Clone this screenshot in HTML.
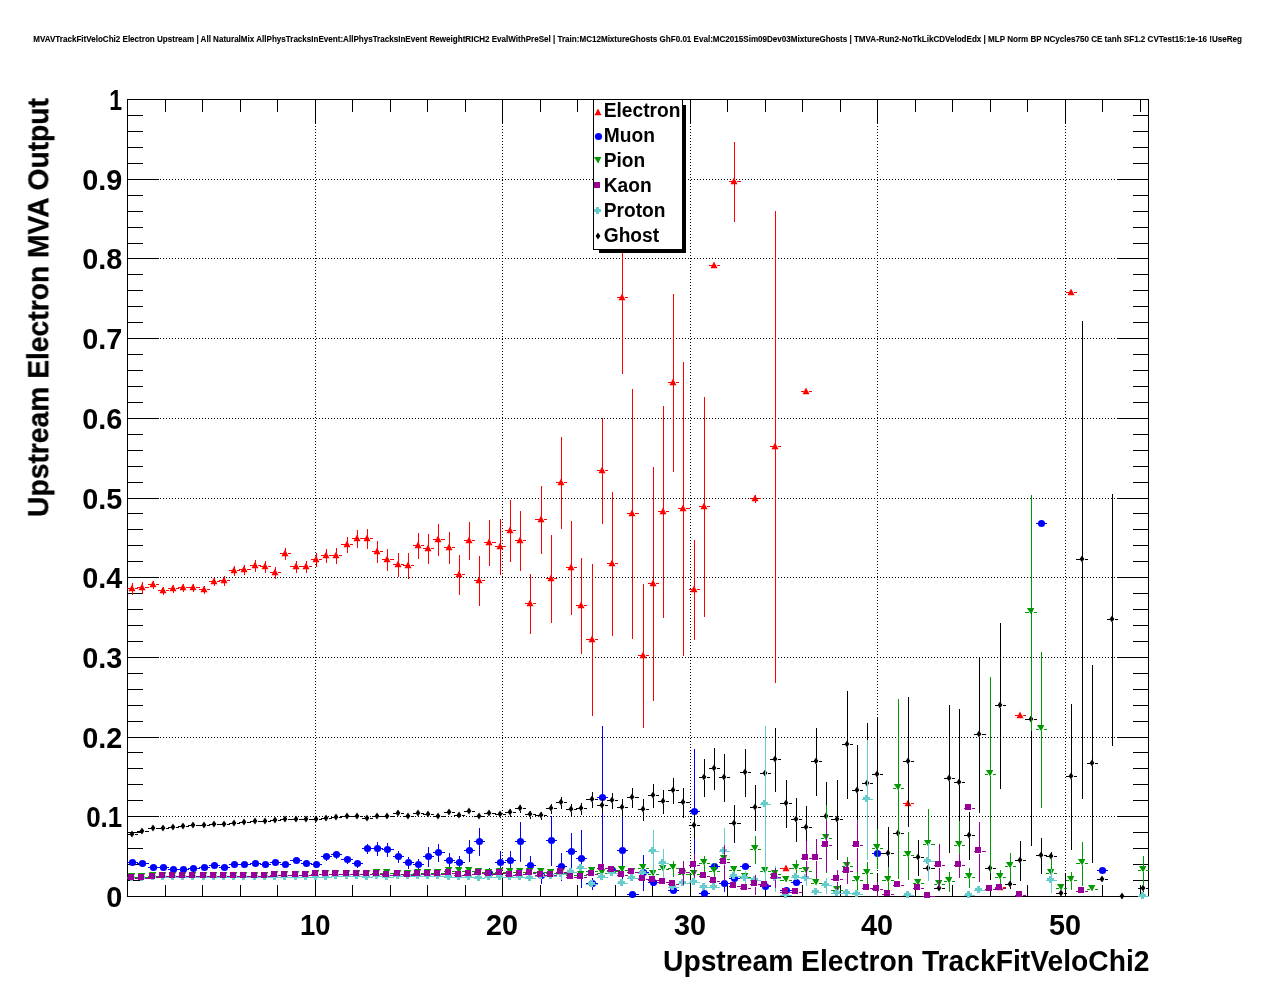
<!DOCTYPE html>
<html><head><meta charset="utf-8"><title>MVAVTrackFitVeloChi2 Electron Upstream</title>
<style>html,body{margin:0;padding:0;background:#fff}body{width:1276px;height:996px;overflow:hidden}</style></head>
<body>
<svg width="1276" height="996" viewBox="0 0 1276 996" style="display:block">
<rect x="0" y="0" width="1276" height="996" fill="#fff"/>
<g stroke="#000" stroke-width="1" stroke-dasharray="1 2" shape-rendering="crispEdges">
<line x1="315.5" y1="98.5" x2="315.5" y2="896.5"/>
<line x1="502.5" y1="98.5" x2="502.5" y2="896.5"/>
<line x1="690.5" y1="98.5" x2="690.5" y2="896.5"/>
<line x1="877.5" y1="98.5" x2="877.5" y2="896.5"/>
<line x1="1065.5" y1="98.5" x2="1065.5" y2="896.5"/>
<line x1="126.5" y1="816.5" x2="1148.5" y2="816.5"/>
<line x1="126.5" y1="737.5" x2="1148.5" y2="737.5"/>
<line x1="126.5" y1="657.5" x2="1148.5" y2="657.5"/>
<line x1="126.5" y1="577.5" x2="1148.5" y2="577.5"/>
<line x1="126.5" y1="498.5" x2="1148.5" y2="498.5"/>
<line x1="126.5" y1="418.5" x2="1148.5" y2="418.5"/>
<line x1="126.5" y1="338.5" x2="1148.5" y2="338.5"/>
<line x1="126.5" y1="258.5" x2="1148.5" y2="258.5"/>
<line x1="126.5" y1="179.5" x2="1148.5" y2="179.5"/>
</g>
<g stroke="#000" stroke-width="1" fill="none" shape-rendering="crispEdges">
<rect x="127.5" y="99.5" width="1021.0" height="797.0"/>
<path d="M165.5 896.5v-12M165.5 99.5v12M202.5 896.5v-12M202.5 99.5v12M240.5 896.5v-12M240.5 99.5v12M277.5 896.5v-12M277.5 99.5v12M315.5 896.5v-24M315.5 99.5v24M352.5 896.5v-12M352.5 99.5v12M390.5 896.5v-12M390.5 99.5v12M427.5 896.5v-12M427.5 99.5v12M465.5 896.5v-12M465.5 99.5v12M502.5 896.5v-24M502.5 99.5v24M540.5 896.5v-12M540.5 99.5v12M577.5 896.5v-12M577.5 99.5v12M615.5 896.5v-12M615.5 99.5v12M652.5 896.5v-12M652.5 99.5v12M690.5 896.5v-24M690.5 99.5v24M727.5 896.5v-12M727.5 99.5v12M765.5 896.5v-12M765.5 99.5v12M802.5 896.5v-12M802.5 99.5v12M840.5 896.5v-12M840.5 99.5v12M877.5 896.5v-24M877.5 99.5v24M915.5 896.5v-12M915.5 99.5v12M952.5 896.5v-12M952.5 99.5v12M990.5 896.5v-12M990.5 99.5v12M1027.5 896.5v-12M1027.5 99.5v12M1065.5 896.5v-24M1065.5 99.5v24M1102.5 896.5v-12M1102.5 99.5v12M1140.5 896.5v-12M1140.5 99.5v12M127 896.5h32M1149 896.5h-32M127 880.5h16M1149 880.5h-16M127 864.5h16M1149 864.5h-16M127 848.5h16M1149 848.5h-16M127 832.5h16M1149 832.5h-16M127 816.5h32M1149 816.5h-32M127 800.5h16M1149 800.5h-16M127 784.5h16M1149 784.5h-16M127 768.5h16M1149 768.5h-16M127 752.5h16M1149 752.5h-16M127 737.5h32M1149 737.5h-32M127 721.5h16M1149 721.5h-16M127 705.5h16M1149 705.5h-16M127 689.5h16M1149 689.5h-16M127 673.5h16M1149 673.5h-16M127 657.5h32M1149 657.5h-32M127 641.5h16M1149 641.5h-16M127 625.5h16M1149 625.5h-16M127 609.5h16M1149 609.5h-16M127 593.5h16M1149 593.5h-16M127 577.5h32M1149 577.5h-32M127 561.5h16M1149 561.5h-16M127 545.5h16M1149 545.5h-16M127 529.5h16M1149 529.5h-16M127 513.5h16M1149 513.5h-16M127 498.5h32M1149 498.5h-32M127 482.5h16M1149 482.5h-16M127 466.5h16M1149 466.5h-16M127 450.5h16M1149 450.5h-16M127 434.5h16M1149 434.5h-16M127 418.5h32M1149 418.5h-32M127 402.5h16M1149 402.5h-16M127 386.5h16M1149 386.5h-16M127 370.5h16M1149 370.5h-16M127 354.5h16M1149 354.5h-16M127 338.5h32M1149 338.5h-32M127 322.5h16M1149 322.5h-16M127 306.5h16M1149 306.5h-16M127 290.5h16M1149 290.5h-16M127 274.5h16M1149 274.5h-16M127 258.5h32M1149 258.5h-32M127 243.5h16M1149 243.5h-16M127 227.5h16M1149 227.5h-16M127 211.5h16M1149 211.5h-16M127 195.5h16M1149 195.5h-16M127 179.5h32M1149 179.5h-32M127 163.5h16M1149 163.5h-16M127 147.5h16M1149 147.5h-16M127 131.5h16M1149 131.5h-16M127 115.5h16M1149 115.5h-16M127 99.5h32M1149 99.5h-32"/>
</g>
<g stroke="#ff0000" stroke-width="1" fill="#ff0000">
<path d="M127 588.5H130.0M135.0 588.5H138M132.5 582.5V586.0M132.5 591.0V594.5M137 587.5H140.0M145.0 587.5H149M142.5 581.5V585.0M142.5 590.0V593.5M148 584.5H151.0M156.0 584.5H159M153.5 580.5V582.0M153.5 587.0V588.5M158 590.5H161.0M166.0 590.5H169M163.5 586.5V588.0M163.5 593.0V594.5M168 588.5H171.0M176.0 588.5H179M173.5 584.5V586.0M173.5 591.0V592.5M178 587.5H181.0M186.0 587.5H189M183.5 583.5V585.0M183.5 590.0V591.5M188 587.5H191.0M196.0 587.5H200M193.5 583.5V585.0M193.5 590.0V591.5M199 589.5H202.0M207.0 589.5H210M204.5 585.5V587.0M204.5 592.0V593.5M209 581.5H212.0M217.0 581.5H220M214.5 577.5V579.0M214.5 584.0V585.5M219 580.5H222.0M227.0 580.5H230M224.5 575.5V578.0M224.5 583.0V585.5M229 570.5H232.0M237.0 570.5H240M234.5 565.5V568.0M234.5 573.0V575.5M239 569.5H242.0M247.0 569.5H251M244.5 564.5V567.0M244.5 572.0V574.5M250 565.5H253.0M258.0 565.5H261M255.5 559.5V563.0M255.5 568.0V571.5M260 566.5H263.0M268.0 566.5H271M265.5 560.5V564.0M265.5 569.0V572.5M270 572.5H273.0M278.0 572.5H281M275.5 566.5V570.0M275.5 575.0V578.5M280 553.5H283.0M288.0 553.5H291M285.5 547.5V551.0M285.5 556.0V559.5M290 566.5H294.0M299.0 566.5H302M296.5 560.5V564.0M296.5 569.0V572.5M301 566.5H304.0M309.0 566.5H312M306.5 560.5V564.0M306.5 569.0V572.5M311 559.5H314.0M319.0 559.5H322M316.5 552.5V557.0M316.5 562.0V566.5M321 555.5H324.0M329.0 555.5H332M326.5 548.5V553.0M326.5 558.0V562.5M331 555.5H334.0M339.0 555.5H342M336.5 547.5V553.0M336.5 558.0V563.5M341 544.5H345.0M350.0 544.5H353M347.5 536.5V542.0M347.5 547.0V552.5M352 538.5H355.0M360.0 538.5H363M357.5 529.5V536.0M357.5 541.0V547.5M362 538.5H365.0M370.0 538.5H373M367.5 528.5V536.0M367.5 541.0V548.5M372 551.5H375.0M380.0 551.5H383M377.5 540.5V549.0M377.5 554.0V562.5M382 559.5H385.0M390.0 559.5H394M387.5 548.5V557.0M387.5 562.0V570.5M393 564.5H396.0M401.0 564.5H404M398.5 552.5V562.0M398.5 567.0V576.5M403 565.5H406.0M411.0 565.5H414M408.5 552.5V563.0M408.5 568.0V578.5M413 545.5H416.0M421.0 545.5H424M418.5 532.5V543.0M418.5 548.0V558.5M423 548.5H426.0M431.0 548.5H434M428.5 533.5V546.0M428.5 551.0V563.5M433 539.5H436.0M441.0 539.5H445M438.5 523.5V537.0M438.5 542.0V555.5M444 547.5H447.0M452.0 547.5H455M449.5 531.5V545.0M449.5 550.0V563.5M454 574.5H457.0M462.0 574.5H465M459.5 554.5V572.0M459.5 577.0V594.5M464 540.5H467.0M472.0 540.5H475M469.5 521.5V538.0M469.5 543.0V559.5M474 580.5H477.0M482.0 580.5H485M479.5 555.5V578.0M479.5 583.0V605.5M484 542.5H487.0M492.0 542.5H496M489.5 519.5V540.0M489.5 545.0V565.5M495 546.5H498.0M503.0 546.5H506M500.5 518.5V544.0M500.5 549.0V574.5M505 530.5H508.0M513.0 530.5H516M510.5 499.5V528.0M510.5 533.0V561.5M515 540.5H518.0M523.0 540.5H526M520.5 510.5V538.0M520.5 543.0V570.5M525 603.5H528.0M533.0 603.5H536M530.5 573.5V601.0M530.5 606.0V633.5M535 519.5H539.0M544.0 519.5H547M541.5 485.5V517.0M541.5 522.0V553.5M546 578.5H549.0M554.0 578.5H557M551.5 534.5V576.0M551.5 581.0V622.5M556 482.5H559.0M564.0 482.5H567M561.5 436.5V480.0M561.5 485.0V528.5M566 567.5H569.0M574.0 567.5H577M571.5 520.5V565.0M571.5 570.0V614.5M576 605.5H579.0M584.0 605.5H587M581.5 557.5V603.0M581.5 608.0V653.5M586 639.5H590.0M595.0 639.5H598M592.5 563.5V637.0M592.5 642.0V715.5M597 470.5H600.0M605.0 470.5H608M602.5 417.5V468.0M602.5 473.0V523.5M607 563.5H610.0M615.0 563.5H618M612.5 491.5V561.0M612.5 566.0V635.5M617 297.5H620.0M625.0 297.5H628M622.5 221.5V295.0M622.5 300.0V373.5M627 513.5H630.0M635.0 513.5H639M632.5 388.5V511.0M632.5 516.0V638.5M638 655.5H641.0M646.0 655.5H649M643.5 583.5V653.0M643.5 658.0V727.5M648 583.5H651.0M656.0 583.5H659M653.5 466.5V581.0M653.5 586.0V700.5M658 511.5H661.0M666.0 511.5H669M663.5 405.5V509.0M663.5 514.0V617.5M668 382.5H671.0M676.0 382.5H679M673.5 293.5V380.0M673.5 385.0V471.5M678 508.5H681.0M686.0 508.5H690M683.5 361.5V506.0M683.5 511.0V655.5M689 589.5H692.0M697.0 589.5H700M694.5 539.5V587.0M694.5 592.0V639.5M699 506.5H702.0M707.0 506.5H710M704.5 396.5V504.0M704.5 509.0V616.5M709 265.5H712.0M717.0 265.5H720M729 181.5H732.0M737.0 181.5H741M734.5 141.5V179.0M734.5 184.0V221.5M750 498.5H753.0M758.0 498.5H761M755.5 494.5V496.0M755.5 501.0V502.5M770 446.5H773.0M778.0 446.5H781M775.5 210.5V444.0M775.5 449.0V682.5M780 868.5H784.0M789.0 868.5H792M801 391.5H804.0M809.0 391.5H812M903 803.5H906.0M911.0 803.5H914M995 887.5H998.0M1003.0 887.5H1006M1015 715.5H1018.0M1023.0 715.5H1026M1066 292.5H1069.0M1074.0 292.5H1077" fill="none" shape-rendering="crispEdges"/>
<g stroke="none"><path d="M132.0 584.5L135.5 591.2H128.5Z"/><path d="M142.0 583.5L145.5 590.2H138.5Z"/><path d="M153.0 580.5L156.5 587.2H149.5Z"/><path d="M163.0 586.5L166.5 593.2H159.5Z"/><path d="M173.0 584.5L176.5 591.2H169.5Z"/><path d="M183.0 583.5L186.5 590.2H179.5Z"/><path d="M193.0 583.5L196.5 590.2H189.5Z"/><path d="M204.0 585.5L207.5 592.2H200.5Z"/><path d="M214.0 577.5L217.5 584.2H210.5Z"/><path d="M224.0 576.5L227.5 583.2H220.5Z"/><path d="M234.0 566.5L237.5 573.2H230.5Z"/><path d="M244.0 565.5L247.5 572.2H240.5Z"/><path d="M255.0 561.5L258.5 568.2H251.5Z"/><path d="M265.0 562.5L268.5 569.2H261.5Z"/><path d="M275.0 568.5L278.5 575.2H271.5Z"/><path d="M285.0 549.5L288.5 556.2H281.5Z"/><path d="M296.0 562.5L299.5 569.2H292.5Z"/><path d="M306.0 562.5L309.5 569.2H302.5Z"/><path d="M316.0 555.5L319.5 562.2H312.5Z"/><path d="M326.0 551.5L329.5 558.2H322.5Z"/><path d="M336.0 551.5L339.5 558.2H332.5Z"/><path d="M347.0 540.5L350.5 547.2H343.5Z"/><path d="M357.0 534.5L360.5 541.2H353.5Z"/><path d="M367.0 534.5L370.5 541.2H363.5Z"/><path d="M377.0 547.5L380.5 554.2H373.5Z"/><path d="M387.0 555.5L390.5 562.2H383.5Z"/><path d="M398.0 560.5L401.5 567.2H394.5Z"/><path d="M408.0 561.5L411.5 568.2H404.5Z"/><path d="M418.0 541.5L421.5 548.2H414.5Z"/><path d="M428.0 544.5L431.5 551.2H424.5Z"/><path d="M438.0 535.5L441.5 542.2H434.5Z"/><path d="M449.0 543.5L452.5 550.2H445.5Z"/><path d="M459.0 570.5L462.5 577.2H455.5Z"/><path d="M469.0 536.5L472.5 543.2H465.5Z"/><path d="M479.0 576.5L482.5 583.2H475.5Z"/><path d="M489.0 538.5L492.5 545.2H485.5Z"/><path d="M500.0 542.5L503.5 549.2H496.5Z"/><path d="M510.0 526.5L513.5 533.2H506.5Z"/><path d="M520.0 536.5L523.5 543.2H516.5Z"/><path d="M530.0 599.5L533.5 606.2H526.5Z"/><path d="M541.0 515.5L544.5 522.2H537.5Z"/><path d="M551.0 574.5L554.5 581.2H547.5Z"/><path d="M561.0 478.5L564.5 485.2H557.5Z"/><path d="M571.0 563.5L574.5 570.2H567.5Z"/><path d="M581.0 601.5L584.5 608.2H577.5Z"/><path d="M592.0 635.5L595.5 642.2H588.5Z"/><path d="M602.0 466.5L605.5 473.2H598.5Z"/><path d="M612.0 559.5L615.5 566.2H608.5Z"/><path d="M622.0 293.5L625.5 300.2H618.5Z"/><path d="M632.0 509.5L635.5 516.2H628.5Z"/><path d="M643.0 651.5L646.5 658.2H639.5Z"/><path d="M653.0 579.5L656.5 586.2H649.5Z"/><path d="M663.0 507.5L666.5 514.2H659.5Z"/><path d="M673.0 378.5L676.5 385.2H669.5Z"/><path d="M683.0 504.5L686.5 511.2H679.5Z"/><path d="M694.0 585.5L697.5 592.2H690.5Z"/><path d="M704.0 502.5L707.5 509.2H700.5Z"/><path d="M714.0 261.5L717.5 268.2H710.5Z"/><path d="M734.0 177.5L737.5 184.2H730.5Z"/><path d="M755.0 494.5L758.5 501.2H751.5Z"/><path d="M775.0 442.5L778.5 449.2H771.5Z"/><path d="M786.0 864.5L789.5 871.2H782.5Z"/><path d="M806.0 387.5L809.5 394.2H802.5Z"/><path d="M908.0 799.5L911.5 806.2H904.5Z"/><path d="M1000.0 883.5L1003.5 890.2H996.5Z"/><path d="M1020.0 711.5L1023.5 718.2H1016.5Z"/><path d="M1071.0 288.5L1074.5 295.2H1067.5Z"/></g>
</g>
<g stroke="#0000ff" stroke-width="1" fill="#0000ff">
<path d="M127 862.5H129.0M136.0 862.5H138M137 863.5H139.0M146.0 863.5H149M148 867.5H150.0M157.0 867.5H159M158 867.5H160.0M167.0 867.5H169M168 869.5H170.0M177.0 869.5H179M178 869.5H180.0M187.0 869.5H189M188 868.5H190.0M197.0 868.5H200M199 867.5H201.0M208.0 867.5H210M209 865.5H211.0M218.0 865.5H220M219 867.5H221.0M228.0 867.5H230M229 864.5H231.0M238.0 864.5H240M239 864.5H241.0M248.0 864.5H251M250 863.5H252.0M259.0 863.5H261M260 864.5H262.0M269.0 864.5H271M270 862.5H272.0M279.0 862.5H281M280 864.5H282.0M289.0 864.5H291M290 860.5H293.0M300.0 860.5H302M301 863.5H303.0M310.0 863.5H312M311 864.5H313.0M320.0 864.5H322M321 856.5H323.0M330.0 856.5H332M326.5 852.5V853.0M326.5 860.0V860.5M331 854.5H333.0M340.0 854.5H342M336.5 850.5V851.0M336.5 858.0V858.5M341 859.5H344.0M351.0 859.5H353M347.5 855.5V856.0M347.5 863.0V863.5M352 863.5H354.0M361.0 863.5H363M357.5 859.5V860.0M357.5 867.0V867.5M362 848.5H364.0M371.0 848.5H373M367.5 843.5V845.0M367.5 852.0V853.5M372 848.5H374.0M381.0 848.5H383M377.5 841.5V845.0M377.5 852.0V855.5M382 849.5H384.0M391.0 849.5H394M387.5 842.5V846.0M387.5 853.0V856.5M393 856.5H395.0M402.0 856.5H404M398.5 850.5V853.0M398.5 860.0V862.5M403 862.5H405.0M412.0 862.5H414M408.5 856.5V859.0M408.5 866.0V868.5M413 864.5H415.0M422.0 864.5H424M418.5 858.5V861.0M418.5 868.0V870.5M423 856.5H425.0M432.0 856.5H434M428.5 846.5V853.0M428.5 860.0V866.5M433 852.5H435.0M442.0 852.5H445M438.5 843.5V849.0M438.5 856.0V861.5M444 860.5H446.0M453.0 860.5H455M449.5 852.5V857.0M449.5 864.0V868.5M454 862.5H456.0M463.0 862.5H465M459.5 855.5V859.0M459.5 866.0V869.5M464 850.5H466.0M473.0 850.5H475M469.5 839.5V847.0M469.5 854.0V861.5M474 841.5H476.0M483.0 841.5H485M479.5 827.5V838.0M479.5 845.0V855.5M484 873.5H486.0M493.0 873.5H496M489.5 867.5V870.0M489.5 877.0V879.5M495 862.5H497.0M504.0 862.5H506M500.5 850.5V859.0M500.5 866.0V874.5M505 860.5H507.0M514.0 860.5H516M510.5 850.5V857.0M510.5 864.0V870.5M515 841.5H517.0M524.0 841.5H526M520.5 821.5V838.0M520.5 845.0V861.5M525 865.5H527.0M534.0 865.5H536M530.5 855.5V862.0M530.5 869.0V875.5M535 875.5H538.0M545.0 875.5H547M541.5 867.5V872.0M541.5 879.0V883.5M546 840.5H548.0M555.0 840.5H557M551.5 815.5V837.0M551.5 844.0V865.5M556 866.5H558.0M565.0 866.5H567M561.5 852.5V863.0M561.5 870.0V880.5M566 851.5H568.0M575.0 851.5H577M571.5 832.5V848.0M571.5 855.0V870.5M576 858.5H578.0M585.0 858.5H587M581.5 829.5V855.0M581.5 862.0V887.5M586 883.5H589.0M596.0 883.5H598M592.5 877.5V880.0M592.5 887.0V889.5M597 797.5H599.0M606.0 797.5H608M602.5 725.5V794.0M602.5 801.0V869.5M607 870.5H609.0M616.0 870.5H618M617 850.5H619.0M626.0 850.5H628M622.5 816.5V847.0M622.5 854.0V884.5M627 894.5H629.0M636.0 894.5H639M638 872.5H640.0M647.0 872.5H649M643.5 854.5V869.0M643.5 876.0V890.5M648 882.5H650.0M657.0 882.5H659M668 890.5H670.0M677.0 890.5H679M689 811.5H691.0M698.0 811.5H700M694.5 748.5V808.0M694.5 815.0V874.5M699 893.5H701.0M708.0 893.5H710M709 866.5H711.0M718.0 866.5H720M719 883.5H721.0M728.0 883.5H730M724.5 875.5V880.0M724.5 887.0V891.5M729 878.5H731.0M738.0 878.5H741M740 866.5H742.0M749.0 866.5H751M760 886.5H762.0M769.0 886.5H771M780 890.5H783.0M790.0 890.5H792M791 882.5H793.0M800.0 882.5H802M872 853.5H874.0M881.0 853.5H883M1036 523.5H1038.0M1045.0 523.5H1047M1097 870.5H1099.0M1106.0 870.5H1108" fill="none" shape-rendering="crispEdges"/>
<g stroke="none"><circle cx="132.5" cy="862.5" r="3.6"/><circle cx="142.5" cy="863.5" r="3.6"/><circle cx="153.5" cy="867.5" r="3.6"/><circle cx="163.5" cy="867.5" r="3.6"/><circle cx="173.5" cy="869.5" r="3.6"/><circle cx="183.5" cy="869.5" r="3.6"/><circle cx="193.5" cy="868.5" r="3.6"/><circle cx="204.5" cy="867.5" r="3.6"/><circle cx="214.5" cy="865.5" r="3.6"/><circle cx="224.5" cy="867.5" r="3.6"/><circle cx="234.5" cy="864.5" r="3.6"/><circle cx="244.5" cy="864.5" r="3.6"/><circle cx="255.5" cy="863.5" r="3.6"/><circle cx="265.5" cy="864.5" r="3.6"/><circle cx="275.5" cy="862.5" r="3.6"/><circle cx="285.5" cy="864.5" r="3.6"/><circle cx="296.5" cy="860.5" r="3.6"/><circle cx="306.5" cy="863.5" r="3.6"/><circle cx="316.5" cy="864.5" r="3.6"/><circle cx="326.5" cy="856.5" r="3.6"/><circle cx="336.5" cy="854.5" r="3.6"/><circle cx="347.5" cy="859.5" r="3.6"/><circle cx="357.5" cy="863.5" r="3.6"/><circle cx="367.5" cy="848.5" r="3.6"/><circle cx="377.5" cy="848.5" r="3.6"/><circle cx="387.5" cy="849.5" r="3.6"/><circle cx="398.5" cy="856.5" r="3.6"/><circle cx="408.5" cy="862.5" r="3.6"/><circle cx="418.5" cy="864.5" r="3.6"/><circle cx="428.5" cy="856.5" r="3.6"/><circle cx="438.5" cy="852.5" r="3.6"/><circle cx="449.5" cy="860.5" r="3.6"/><circle cx="459.5" cy="862.5" r="3.6"/><circle cx="469.5" cy="850.5" r="3.6"/><circle cx="479.5" cy="841.5" r="3.6"/><circle cx="489.5" cy="873.5" r="3.6"/><circle cx="500.5" cy="862.5" r="3.6"/><circle cx="510.5" cy="860.5" r="3.6"/><circle cx="520.5" cy="841.5" r="3.6"/><circle cx="530.5" cy="865.5" r="3.6"/><circle cx="541.5" cy="875.5" r="3.6"/><circle cx="551.5" cy="840.5" r="3.6"/><circle cx="561.5" cy="866.5" r="3.6"/><circle cx="571.5" cy="851.5" r="3.6"/><circle cx="581.5" cy="858.5" r="3.6"/><circle cx="592.5" cy="883.5" r="3.6"/><circle cx="602.5" cy="797.5" r="3.6"/><circle cx="612.5" cy="870.5" r="3.6"/><circle cx="622.5" cy="850.5" r="3.6"/><circle cx="632.5" cy="894.5" r="3.6"/><circle cx="643.5" cy="872.5" r="3.6"/><circle cx="653.5" cy="882.5" r="3.6"/><circle cx="673.5" cy="890.5" r="3.6"/><circle cx="694.5" cy="811.5" r="3.6"/><circle cx="704.5" cy="893.5" r="3.6"/><circle cx="714.5" cy="866.5" r="3.6"/><circle cx="724.5" cy="883.5" r="3.6"/><circle cx="734.5" cy="878.5" r="3.6"/><circle cx="745.5" cy="866.5" r="3.6"/><circle cx="765.5" cy="886.5" r="3.6"/><circle cx="786.5" cy="890.5" r="3.6"/><circle cx="796.5" cy="882.5" r="3.6"/><circle cx="877.5" cy="853.5" r="3.6"/><circle cx="1041.5" cy="523.5" r="3.6"/><circle cx="1102.5" cy="870.5" r="3.6"/></g>
</g>
<g stroke="#000000" stroke-width="1" fill="#000000">
<path d="M127 834.5H130.0M135.0 834.5H138M137 831.5H140.0M145.0 831.5H149M148 828.5H151.0M156.0 828.5H159M158 828.5H161.0M166.0 828.5H169M168 827.5H171.0M176.0 827.5H179M178 826.5H181.0M186.0 826.5H189M188 825.5H191.0M196.0 825.5H200M199 825.5H202.0M207.0 825.5H210M209 824.5H212.0M217.0 824.5H220M219 824.5H222.0M227.0 824.5H230M229 823.5H232.0M237.0 823.5H240M239 822.5H242.0M247.0 822.5H251M250 821.5H253.0M258.0 821.5H261M260 821.5H263.0M268.0 821.5H271M270 820.5H273.0M278.0 820.5H281M280 819.5H283.0M288.0 819.5H291M290 819.5H294.0M299.0 819.5H302M301 819.5H304.0M309.0 819.5H312M311 819.5H314.0M319.0 819.5H322M321 818.5H324.0M329.0 818.5H332M331 817.5H334.0M339.0 817.5H342M341 816.5H345.0M350.0 816.5H353M352 816.5H355.0M360.0 816.5H363M362 818.5H365.0M370.0 818.5H373M372 816.5H375.0M380.0 816.5H383M382 816.5H385.0M390.0 816.5H394M393 813.5H396.0M401.0 813.5H404M403 816.5H406.0M411.0 816.5H414M413 813.5H416.0M421.0 813.5H424M423 814.5H426.0M431.0 814.5H434M433 816.5H436.0M441.0 816.5H445M444 812.5H447.0M452.0 812.5H455M454 815.5H457.0M462.0 815.5H465M464 811.5H467.0M472.0 811.5H475M474 816.5H477.0M482.0 816.5H485M484 813.5H487.0M492.0 813.5H496M495 814.5H498.0M503.0 814.5H506M500.5 811.5V812.0M500.5 817.0V817.5M505 812.5H508.0M513.0 812.5H516M510.5 808.5V810.0M510.5 815.0V816.5M515 808.5H518.0M523.0 808.5H526M520.5 804.5V806.0M520.5 811.0V812.5M525 814.5H528.0M533.0 814.5H536M530.5 810.5V812.0M530.5 817.0V818.5M535 815.5H539.0M544.0 815.5H547M541.5 811.5V813.0M541.5 818.0V819.5M546 808.5H549.0M554.0 808.5H557M551.5 803.5V806.0M551.5 811.0V813.5M556 802.5H559.0M564.0 802.5H567M561.5 796.5V800.0M561.5 805.0V808.5M566 809.5H569.0M574.0 809.5H577M571.5 803.5V807.0M571.5 812.0V815.5M576 808.5H579.0M584.0 808.5H587M581.5 802.5V806.0M581.5 811.0V814.5M586 799.5H590.0M595.0 799.5H598M592.5 791.5V797.0M592.5 802.0V807.5M597 805.5H600.0M605.0 805.5H608M602.5 798.5V803.0M602.5 808.0V812.5M607 800.5H610.0M615.0 800.5H618M612.5 792.5V798.0M612.5 803.0V808.5M617 807.5H620.0M625.0 807.5H628M622.5 798.5V805.0M622.5 810.0V816.5M627 797.5H630.0M635.0 797.5H639M632.5 787.5V795.0M632.5 800.0V807.5M638 809.5H641.0M646.0 809.5H649M643.5 798.5V807.0M643.5 812.0V820.5M648 795.5H651.0M656.0 795.5H659M653.5 783.5V793.0M653.5 798.0V807.5M658 801.5H661.0M666.0 801.5H669M663.5 789.5V799.0M663.5 804.0V813.5M668 790.5H671.0M676.0 790.5H679M673.5 777.5V788.0M673.5 793.0V803.5M678 802.5H681.0M686.0 802.5H690M683.5 787.5V800.0M683.5 805.0V817.5M689 825.5H692.0M697.0 825.5H700M694.5 813.5V823.0M694.5 828.0V837.5M699 777.5H702.0M707.0 777.5H710M704.5 758.5V775.0M704.5 780.0V796.5M709 768.5H712.0M717.0 768.5H720M714.5 747.5V766.0M714.5 771.0V789.5M719 777.5H722.0M727.0 777.5H730M724.5 753.5V775.0M724.5 780.0V801.5M729 823.5H732.0M737.0 823.5H741M734.5 804.5V821.0M734.5 826.0V842.5M740 772.5H743.0M748.0 772.5H751M745.5 748.5V770.0M745.5 775.0V796.5M750 807.5H753.0M758.0 807.5H761M755.5 784.5V805.0M755.5 810.0V830.5M760 773.5H763.0M768.0 773.5H771M765.5 749.5V771.0M765.5 776.0V797.5M770 759.5H773.0M778.0 759.5H781M775.5 727.5V757.0M775.5 762.0V791.5M780 803.5H784.0M789.0 803.5H792M786.5 779.5V801.0M786.5 806.0V827.5M791 819.5H794.0M799.0 819.5H802M796.5 797.5V817.0M796.5 822.0V841.5M801 827.5H804.0M809.0 827.5H812M806.5 805.5V825.0M806.5 830.0V849.5M811 761.5H814.0M819.0 761.5H822M816.5 727.5V759.0M816.5 764.0V795.5M821 816.5H824.0M829.0 816.5H832M826.5 781.5V814.0M826.5 819.0V851.5M831 819.5H835.0M840.0 819.5H843M837.5 779.5V817.0M837.5 822.0V859.5M842 744.5H845.0M850.0 744.5H853M847.5 690.5V742.0M847.5 747.0V798.5M852 790.5H855.0M860.0 790.5H863M857.5 744.5V788.0M857.5 793.0V836.5M862 783.5H865.0M870.0 783.5H873M867.5 722.5V781.0M867.5 786.0V844.5M872 774.5H875.0M880.0 774.5H883M877.5 717.5V772.0M877.5 777.0V831.5M882 853.5H886.0M891.0 853.5H894M888.5 826.5V851.0M888.5 856.0V880.5M893 833.5H896.0M901.0 833.5H904M898.5 813.5V831.0M898.5 836.0V853.5M903 761.5H906.0M911.0 761.5H914M908.5 696.5V759.0M908.5 764.0V826.5M913 857.5H916.0M921.0 857.5H924M918.5 839.5V855.0M918.5 860.0V875.5M923 868.5H926.0M931.0 868.5H935M928.5 858.5V866.0M928.5 871.0V878.5M934 888.5H937.0M942.0 888.5H945M944 778.5H947.0M952.0 778.5H955M949.5 704.5V776.0M949.5 781.0V852.5M954 782.5H957.0M962.0 782.5H965M959.5 708.5V780.0M959.5 785.0V856.5M964 835.5H967.0M972.0 835.5H975M969.5 811.5V833.0M969.5 838.0V859.5M974 734.5H977.0M982.0 734.5H986M979.5 656.5V732.0M979.5 737.0V812.5M985 868.5H988.0M993.0 868.5H996M990.5 857.5V866.0M990.5 871.0V879.5M995 705.5H998.0M1003.0 705.5H1006M1000.5 622.5V703.0M1000.5 708.0V788.5M1005 884.5H1008.0M1013.0 884.5H1016M1010.5 880.5V882.0M1010.5 887.0V888.5M1015 860.5H1018.0M1023.0 860.5H1026M1020.5 840.5V858.0M1020.5 863.0V880.5M1025 719.5H1029.0M1034.0 719.5H1037M1031.5 593.5V717.0M1031.5 722.0V845.5M1036 855.5H1039.0M1044.0 855.5H1047M1041.5 837.5V853.0M1041.5 858.0V873.5M1046 856.5H1049.0M1054.0 856.5H1057M1051.5 851.5V854.0M1051.5 859.0V861.5M1056 893.5H1059.0M1064.0 893.5H1067M1066 776.5H1069.0M1074.0 776.5H1077M1071.5 703.5V774.0M1071.5 779.0V849.5M1076 559.5H1080.0M1085.0 559.5H1088M1082.5 320.5V557.0M1082.5 562.0V798.5M1087 763.5H1090.0M1095.0 763.5H1098M1092.5 664.5V761.0M1092.5 766.0V862.5M1097 879.5H1100.0M1105.0 879.5H1108M1107 619.5H1110.0M1115.0 619.5H1118M1112.5 493.5V617.0M1112.5 622.0V745.5M1117 896.5H1120.0M1125.0 896.5H1128M1138 888.5H1141.0M1146.0 888.5H1149M1143.5 884.5V886.0M1143.5 891.0V892.5" fill="none" shape-rendering="crispEdges"/>
<g stroke="none"><path d="M132.0 830.6L134.4 834.0L132.0 837.4L129.6 834.0Z"/><path d="M142.0 827.6L144.4 831.0L142.0 834.4L139.6 831.0Z"/><path d="M153.0 824.6L155.4 828.0L153.0 831.4L150.6 828.0Z"/><path d="M163.0 824.6L165.4 828.0L163.0 831.4L160.6 828.0Z"/><path d="M173.0 823.6L175.4 827.0L173.0 830.4L170.6 827.0Z"/><path d="M183.0 822.6L185.4 826.0L183.0 829.4L180.6 826.0Z"/><path d="M193.0 821.6L195.4 825.0L193.0 828.4L190.6 825.0Z"/><path d="M204.0 821.6L206.4 825.0L204.0 828.4L201.6 825.0Z"/><path d="M214.0 820.6L216.4 824.0L214.0 827.4L211.6 824.0Z"/><path d="M224.0 820.6L226.4 824.0L224.0 827.4L221.6 824.0Z"/><path d="M234.0 819.6L236.4 823.0L234.0 826.4L231.6 823.0Z"/><path d="M244.0 818.6L246.4 822.0L244.0 825.4L241.6 822.0Z"/><path d="M255.0 817.6L257.4 821.0L255.0 824.4L252.6 821.0Z"/><path d="M265.0 817.6L267.4 821.0L265.0 824.4L262.6 821.0Z"/><path d="M275.0 816.6L277.4 820.0L275.0 823.4L272.6 820.0Z"/><path d="M285.0 815.6L287.4 819.0L285.0 822.4L282.6 819.0Z"/><path d="M296.0 815.6L298.4 819.0L296.0 822.4L293.6 819.0Z"/><path d="M306.0 815.6L308.4 819.0L306.0 822.4L303.6 819.0Z"/><path d="M316.0 815.6L318.4 819.0L316.0 822.4L313.6 819.0Z"/><path d="M326.0 814.6L328.4 818.0L326.0 821.4L323.6 818.0Z"/><path d="M336.0 813.6L338.4 817.0L336.0 820.4L333.6 817.0Z"/><path d="M347.0 812.6L349.4 816.0L347.0 819.4L344.6 816.0Z"/><path d="M357.0 812.6L359.4 816.0L357.0 819.4L354.6 816.0Z"/><path d="M367.0 814.6L369.4 818.0L367.0 821.4L364.6 818.0Z"/><path d="M377.0 812.6L379.4 816.0L377.0 819.4L374.6 816.0Z"/><path d="M387.0 812.6L389.4 816.0L387.0 819.4L384.6 816.0Z"/><path d="M398.0 809.6L400.4 813.0L398.0 816.4L395.6 813.0Z"/><path d="M408.0 812.6L410.4 816.0L408.0 819.4L405.6 816.0Z"/><path d="M418.0 809.6L420.4 813.0L418.0 816.4L415.6 813.0Z"/><path d="M428.0 810.6L430.4 814.0L428.0 817.4L425.6 814.0Z"/><path d="M438.0 812.6L440.4 816.0L438.0 819.4L435.6 816.0Z"/><path d="M449.0 808.6L451.4 812.0L449.0 815.4L446.6 812.0Z"/><path d="M459.0 811.6L461.4 815.0L459.0 818.4L456.6 815.0Z"/><path d="M469.0 807.6L471.4 811.0L469.0 814.4L466.6 811.0Z"/><path d="M479.0 812.6L481.4 816.0L479.0 819.4L476.6 816.0Z"/><path d="M489.0 809.6L491.4 813.0L489.0 816.4L486.6 813.0Z"/><path d="M500.0 810.6L502.4 814.0L500.0 817.4L497.6 814.0Z"/><path d="M510.0 808.6L512.4 812.0L510.0 815.4L507.6 812.0Z"/><path d="M520.0 804.6L522.4 808.0L520.0 811.4L517.6 808.0Z"/><path d="M530.0 810.6L532.4 814.0L530.0 817.4L527.6 814.0Z"/><path d="M541.0 811.6L543.4 815.0L541.0 818.4L538.6 815.0Z"/><path d="M551.0 804.6L553.4 808.0L551.0 811.4L548.6 808.0Z"/><path d="M561.0 798.6L563.4 802.0L561.0 805.4L558.6 802.0Z"/><path d="M571.0 805.6L573.4 809.0L571.0 812.4L568.6 809.0Z"/><path d="M581.0 804.6L583.4 808.0L581.0 811.4L578.6 808.0Z"/><path d="M592.0 795.6L594.4 799.0L592.0 802.4L589.6 799.0Z"/><path d="M602.0 801.6L604.4 805.0L602.0 808.4L599.6 805.0Z"/><path d="M612.0 796.6L614.4 800.0L612.0 803.4L609.6 800.0Z"/><path d="M622.0 803.6L624.4 807.0L622.0 810.4L619.6 807.0Z"/><path d="M632.0 793.6L634.4 797.0L632.0 800.4L629.6 797.0Z"/><path d="M643.0 805.6L645.4 809.0L643.0 812.4L640.6 809.0Z"/><path d="M653.0 791.6L655.4 795.0L653.0 798.4L650.6 795.0Z"/><path d="M663.0 797.6L665.4 801.0L663.0 804.4L660.6 801.0Z"/><path d="M673.0 786.6L675.4 790.0L673.0 793.4L670.6 790.0Z"/><path d="M683.0 798.6L685.4 802.0L683.0 805.4L680.6 802.0Z"/><path d="M694.0 821.6L696.4 825.0L694.0 828.4L691.6 825.0Z"/><path d="M704.0 773.6L706.4 777.0L704.0 780.4L701.6 777.0Z"/><path d="M714.0 764.6L716.4 768.0L714.0 771.4L711.6 768.0Z"/><path d="M724.0 773.6L726.4 777.0L724.0 780.4L721.6 777.0Z"/><path d="M734.0 819.6L736.4 823.0L734.0 826.4L731.6 823.0Z"/><path d="M745.0 768.6L747.4 772.0L745.0 775.4L742.6 772.0Z"/><path d="M755.0 803.6L757.4 807.0L755.0 810.4L752.6 807.0Z"/><path d="M765.0 769.6L767.4 773.0L765.0 776.4L762.6 773.0Z"/><path d="M775.0 755.6L777.4 759.0L775.0 762.4L772.6 759.0Z"/><path d="M786.0 799.6L788.4 803.0L786.0 806.4L783.6 803.0Z"/><path d="M796.0 815.6L798.4 819.0L796.0 822.4L793.6 819.0Z"/><path d="M806.0 823.6L808.4 827.0L806.0 830.4L803.6 827.0Z"/><path d="M816.0 757.6L818.4 761.0L816.0 764.4L813.6 761.0Z"/><path d="M826.0 812.6L828.4 816.0L826.0 819.4L823.6 816.0Z"/><path d="M837.0 815.6L839.4 819.0L837.0 822.4L834.6 819.0Z"/><path d="M847.0 740.6L849.4 744.0L847.0 747.4L844.6 744.0Z"/><path d="M857.0 786.6L859.4 790.0L857.0 793.4L854.6 790.0Z"/><path d="M867.0 779.6L869.4 783.0L867.0 786.4L864.6 783.0Z"/><path d="M877.0 770.6L879.4 774.0L877.0 777.4L874.6 774.0Z"/><path d="M888.0 849.6L890.4 853.0L888.0 856.4L885.6 853.0Z"/><path d="M898.0 829.6L900.4 833.0L898.0 836.4L895.6 833.0Z"/><path d="M908.0 757.6L910.4 761.0L908.0 764.4L905.6 761.0Z"/><path d="M918.0 853.6L920.4 857.0L918.0 860.4L915.6 857.0Z"/><path d="M928.0 864.6L930.4 868.0L928.0 871.4L925.6 868.0Z"/><path d="M939.0 884.6L941.4 888.0L939.0 891.4L936.6 888.0Z"/><path d="M949.0 774.6L951.4 778.0L949.0 781.4L946.6 778.0Z"/><path d="M959.0 778.6L961.4 782.0L959.0 785.4L956.6 782.0Z"/><path d="M969.0 831.6L971.4 835.0L969.0 838.4L966.6 835.0Z"/><path d="M979.0 730.6L981.4 734.0L979.0 737.4L976.6 734.0Z"/><path d="M990.0 864.6L992.4 868.0L990.0 871.4L987.6 868.0Z"/><path d="M1000.0 701.6L1002.4 705.0L1000.0 708.4L997.6 705.0Z"/><path d="M1010.0 880.6L1012.4 884.0L1010.0 887.4L1007.6 884.0Z"/><path d="M1020.0 856.6L1022.4 860.0L1020.0 863.4L1017.6 860.0Z"/><path d="M1031.0 715.6L1033.4 719.0L1031.0 722.4L1028.6 719.0Z"/><path d="M1041.0 851.6L1043.4 855.0L1041.0 858.4L1038.6 855.0Z"/><path d="M1051.0 852.6L1053.4 856.0L1051.0 859.4L1048.6 856.0Z"/><path d="M1061.0 889.6L1063.4 893.0L1061.0 896.4L1058.6 893.0Z"/><path d="M1071.0 772.6L1073.4 776.0L1071.0 779.4L1068.6 776.0Z"/><path d="M1082.0 555.6L1084.4 559.0L1082.0 562.4L1079.6 559.0Z"/><path d="M1092.0 759.6L1094.4 763.0L1092.0 766.4L1089.6 763.0Z"/><path d="M1102.0 875.6L1104.4 879.0L1102.0 882.4L1099.6 879.0Z"/><path d="M1112.0 615.6L1114.4 619.0L1112.0 622.4L1109.6 619.0Z"/><path d="M1122.0 892.6L1124.4 896.0L1122.0 899.4L1119.6 896.0Z"/><path d="M1143.0 884.6L1145.4 888.0L1143.0 891.4L1140.6 888.0Z"/></g>
</g>
<g stroke="#009900" stroke-width="1" fill="#009900">
<path d="M127 877.5H130.0M135.0 877.5H138M137 877.5H140.0M145.0 877.5H149M148 876.5H151.0M156.0 876.5H159M158 876.5H161.0M166.0 876.5H169M168 876.5H171.0M176.0 876.5H179M178 876.5H181.0M186.0 876.5H189M188 876.5H191.0M196.0 876.5H200M199 876.5H202.0M207.0 876.5H210M209 876.5H212.0M217.0 876.5H220M219 876.5H222.0M227.0 876.5H230M229 876.5H232.0M237.0 876.5H240M239 876.5H242.0M247.0 876.5H251M250 876.5H253.0M258.0 876.5H261M260 876.5H263.0M268.0 876.5H271M270 875.5H273.0M278.0 875.5H281M280 875.5H283.0M288.0 875.5H291M290 875.5H294.0M299.0 875.5H302M301 875.5H304.0M309.0 875.5H312M311 874.5H314.0M319.0 874.5H322M321 874.5H324.0M329.0 874.5H332M331 874.5H334.0M339.0 874.5H342M341 874.5H345.0M350.0 874.5H353M352 874.5H355.0M360.0 874.5H363M362 874.5H365.0M370.0 874.5H373M372 873.5H375.0M380.0 873.5H383M382 873.5H385.0M390.0 873.5H394M393 874.5H396.0M401.0 874.5H404M403 874.5H406.0M411.0 874.5H414M413 873.5H416.0M421.0 873.5H424M423 873.5H426.0M431.0 873.5H434M433 873.5H436.0M441.0 873.5H445M444 871.5H447.0M452.0 871.5H455M454 871.5H457.0M462.0 871.5H465M464 871.5H467.0M472.0 871.5H475M474 872.5H477.0M482.0 872.5H485M484 873.5H487.0M492.0 873.5H496M495 872.5H498.0M503.0 872.5H506M505 872.5H508.0M513.0 872.5H516M515 872.5H518.0M523.0 872.5H526M525 872.5H528.0M533.0 872.5H536M535 872.5H539.0M544.0 872.5H547M546 873.5H549.0M554.0 873.5H557M556 873.5H559.0M564.0 873.5H567M566 875.5H569.0M574.0 875.5H577M576 875.5H579.0M584.0 875.5H587M586 871.5H590.0M595.0 871.5H598M597 873.5H600.0M605.0 873.5H608M607 871.5H610.0M615.0 871.5H618M617 870.5H620.0M625.0 870.5H628M627 872.5H630.0M635.0 872.5H639M638 868.5H641.0M646.0 868.5H649M648 874.5H651.0M656.0 874.5H659M658 869.5H661.0M666.0 869.5H669M668 868.5H671.0M676.0 868.5H679M673.5 860.5V866.0M673.5 870.0V876.5M678 874.5H681.0M686.0 874.5H690M689 874.5H692.0M697.0 874.5H700M699 863.5H702.0M707.0 863.5H710M704.5 855.5V861.0M704.5 865.0V871.5M709 871.5H712.0M717.0 871.5H720M714.5 862.5V869.0M714.5 873.0V880.5M719 859.5H722.0M727.0 859.5H730M729 870.5H732.0M737.0 870.5H741M740 877.5H743.0M748.0 877.5H751M750 849.5H753.0M758.0 849.5H761M755.5 835.5V847.0M755.5 851.0V863.5M760 871.5H763.0M768.0 871.5H771M770 874.5H773.0M778.0 874.5H781M780 880.5H784.0M789.0 880.5H792M791 868.5H794.0M799.0 868.5H802M796.5 859.5V866.0M796.5 870.0V877.5M801 871.5H804.0M809.0 871.5H812M811 883.5H814.0M819.0 883.5H822M821 838.5H824.0M829.0 838.5H832M826.5 804.5V836.0M826.5 840.0V872.5M831 890.5H835.0M840.0 890.5H843M842 866.5H845.0M850.0 866.5H853M847.5 856.5V864.0M847.5 868.0V876.5M852 880.5H855.0M860.0 880.5H863M857.5 871.5V878.0M857.5 882.0V889.5M862 873.5H865.0M870.0 873.5H873M867.5 861.5V871.0M867.5 875.0V885.5M872 848.5H875.0M880.0 848.5H883M877.5 828.5V846.0M877.5 850.0V868.5M882 880.5H886.0M891.0 880.5H894M888.5 866.5V878.0M888.5 882.0V894.5M893 788.5H896.0M901.0 788.5H904M898.5 698.5V786.0M898.5 790.0V878.5M903 855.5H906.0M911.0 855.5H914M908.5 831.5V853.0M908.5 857.0V879.5M913 883.5H916.0M921.0 883.5H924M923 844.5H926.0M931.0 844.5H935M928.5 808.5V842.0M928.5 846.0V880.5M934 884.5H937.0M942.0 884.5H945M944 881.5H947.0M952.0 881.5H955M949.5 871.5V879.0M949.5 883.0V891.5M954 845.5H957.0M962.0 845.5H965M959.5 820.5V843.0M959.5 847.0V870.5M964 877.5H967.0M972.0 877.5H975M969.5 867.5V875.0M969.5 879.0V887.5M985 774.5H988.0M993.0 774.5H996M990.5 676.5V772.0M990.5 776.0V872.5M995 877.5H998.0M1003.0 877.5H1006M1000.5 869.5V875.0M1000.5 879.0V885.5M1005 866.5H1008.0M1013.0 866.5H1016M1010.5 852.5V864.0M1010.5 868.0V880.5M1025 612.5H1029.0M1034.0 612.5H1037M1031.5 494.5V610.0M1031.5 614.0V730.5M1036 729.5H1039.0M1044.0 729.5H1047M1041.5 651.5V727.0M1041.5 731.0V807.5M1046 873.5H1049.0M1054.0 873.5H1057M1051.5 858.5V871.0M1051.5 875.0V888.5M1056 888.5H1059.0M1064.0 888.5H1067M1066 880.5H1069.0M1074.0 880.5H1077M1071.5 871.5V878.0M1071.5 882.0V889.5M1076 863.5H1080.0M1085.0 863.5H1088M1082.5 841.5V861.0M1082.5 865.0V885.5M1087 889.5H1090.0M1095.0 889.5H1098M1138 870.5H1141.0M1146.0 870.5H1149M1143.5 855.5V868.0M1143.5 872.0V885.5" fill="none" shape-rendering="crispEdges"/>
<g stroke="none"><path d="M127.9 872.9H135.3L132.2 879.5Z"/><path d="M137.9 872.9H145.3L142.2 879.5Z"/><path d="M148.9 871.9H156.3L153.2 878.5Z"/><path d="M158.9 871.9H166.3L163.2 878.5Z"/><path d="M168.9 871.9H176.3L173.2 878.5Z"/><path d="M178.9 871.9H186.3L183.2 878.5Z"/><path d="M188.9 871.9H196.3L193.2 878.5Z"/><path d="M199.9 871.9H207.3L204.2 878.5Z"/><path d="M209.9 871.9H217.3L214.2 878.5Z"/><path d="M219.9 871.9H227.3L224.2 878.5Z"/><path d="M229.9 871.9H237.3L234.2 878.5Z"/><path d="M239.9 871.9H247.3L244.2 878.5Z"/><path d="M250.9 871.9H258.3L255.2 878.5Z"/><path d="M260.9 871.9H268.3L265.2 878.5Z"/><path d="M270.9 870.9H278.3L275.2 877.5Z"/><path d="M280.9 870.9H288.3L285.2 877.5Z"/><path d="M291.9 870.9H299.3L296.2 877.5Z"/><path d="M301.9 870.9H309.3L306.2 877.5Z"/><path d="M311.9 869.9H319.3L316.2 876.5Z"/><path d="M321.9 869.9H329.3L326.2 876.5Z"/><path d="M331.9 869.9H339.3L336.2 876.5Z"/><path d="M342.9 869.9H350.3L347.2 876.5Z"/><path d="M352.9 869.9H360.3L357.2 876.5Z"/><path d="M362.9 869.9H370.3L367.2 876.5Z"/><path d="M372.9 868.9H380.3L377.2 875.5Z"/><path d="M382.9 868.9H390.3L387.2 875.5Z"/><path d="M393.9 869.9H401.3L398.2 876.5Z"/><path d="M403.9 869.9H411.3L408.2 876.5Z"/><path d="M413.9 868.9H421.3L418.2 875.5Z"/><path d="M423.9 868.9H431.3L428.2 875.5Z"/><path d="M433.9 868.9H441.3L438.2 875.5Z"/><path d="M444.9 866.9H452.3L449.2 873.5Z"/><path d="M454.9 866.9H462.3L459.2 873.5Z"/><path d="M464.9 866.9H472.3L469.2 873.5Z"/><path d="M474.9 867.9H482.3L479.2 874.5Z"/><path d="M484.9 868.9H492.3L489.2 875.5Z"/><path d="M495.9 867.9H503.3L500.2 874.5Z"/><path d="M505.9 867.9H513.3L510.2 874.5Z"/><path d="M515.9 867.9H523.3L520.2 874.5Z"/><path d="M525.9 867.9H533.3L530.2 874.5Z"/><path d="M536.9 867.9H544.3L541.2 874.5Z"/><path d="M546.9 868.9H554.3L551.2 875.5Z"/><path d="M556.9 868.9H564.3L561.2 875.5Z"/><path d="M566.9 870.9H574.3L571.2 877.5Z"/><path d="M576.9 870.9H584.3L581.2 877.5Z"/><path d="M587.9 866.9H595.3L592.2 873.5Z"/><path d="M597.9 868.9H605.3L602.2 875.5Z"/><path d="M607.9 866.9H615.3L612.2 873.5Z"/><path d="M617.9 865.9H625.3L622.2 872.5Z"/><path d="M627.9 867.9H635.3L632.2 874.5Z"/><path d="M638.9 863.9H646.3L643.2 870.5Z"/><path d="M648.9 869.9H656.3L653.2 876.5Z"/><path d="M658.9 864.9H666.3L663.2 871.5Z"/><path d="M668.9 863.9H676.3L673.2 870.5Z"/><path d="M678.9 869.9H686.3L683.2 876.5Z"/><path d="M689.9 869.9H697.3L694.2 876.5Z"/><path d="M699.9 858.9H707.3L704.2 865.5Z"/><path d="M709.9 866.9H717.3L714.2 873.5Z"/><path d="M719.9 854.9H727.3L724.2 861.5Z"/><path d="M729.9 865.9H737.3L734.2 872.5Z"/><path d="M740.9 872.9H748.3L745.2 879.5Z"/><path d="M750.9 844.9H758.3L755.2 851.5Z"/><path d="M760.9 866.9H768.3L765.2 873.5Z"/><path d="M770.9 869.9H778.3L775.2 876.5Z"/><path d="M781.9 875.9H789.3L786.2 882.5Z"/><path d="M791.9 863.9H799.3L796.2 870.5Z"/><path d="M801.9 866.9H809.3L806.2 873.5Z"/><path d="M811.9 878.9H819.3L816.2 885.5Z"/><path d="M821.9 833.9H829.3L826.2 840.5Z"/><path d="M832.9 885.9H840.3L837.2 892.5Z"/><path d="M842.9 861.9H850.3L847.2 868.5Z"/><path d="M852.9 875.9H860.3L857.2 882.5Z"/><path d="M862.9 868.9H870.3L867.2 875.5Z"/><path d="M872.9 843.9H880.3L877.2 850.5Z"/><path d="M883.9 875.9H891.3L888.2 882.5Z"/><path d="M893.9 783.9H901.3L898.2 790.5Z"/><path d="M903.9 850.9H911.3L908.2 857.5Z"/><path d="M913.9 878.9H921.3L918.2 885.5Z"/><path d="M923.9 839.9H931.3L928.2 846.5Z"/><path d="M934.9 879.9H942.3L939.2 886.5Z"/><path d="M944.9 876.9H952.3L949.2 883.5Z"/><path d="M954.9 840.9H962.3L959.2 847.5Z"/><path d="M964.9 872.9H972.3L969.2 879.5Z"/><path d="M985.9 769.9H993.3L990.2 776.5Z"/><path d="M995.9 872.9H1003.3L1000.2 879.5Z"/><path d="M1005.9 861.9H1013.3L1010.2 868.5Z"/><path d="M1026.9 607.9H1034.3L1031.2 614.5Z"/><path d="M1036.9 724.9H1044.3L1041.2 731.5Z"/><path d="M1046.9 868.9H1054.3L1051.2 875.5Z"/><path d="M1056.9 883.9H1064.3L1061.2 890.5Z"/><path d="M1066.9 875.9H1074.3L1071.2 882.5Z"/><path d="M1077.9 858.9H1085.3L1082.2 865.5Z"/><path d="M1087.9 884.9H1095.3L1092.2 891.5Z"/><path d="M1138.9 865.9H1146.3L1143.2 872.5Z"/></g>
</g>
<g stroke="#66cccc" stroke-width="1" fill="#66cccc">
<path d="M127 878.5H130.0M135.0 878.5H138M137 878.5H140.0M145.0 878.5H149M148 877.5H151.0M156.0 877.5H159M158 877.5H161.0M166.0 877.5H169M168 877.5H171.0M176.0 877.5H179M178 877.5H181.0M186.0 877.5H189M188 877.5H191.0M196.0 877.5H200M199 877.5H202.0M207.0 877.5H210M209 877.5H212.0M217.0 877.5H220M219 877.5H222.0M227.0 877.5H230M229 877.5H232.0M237.0 877.5H240M239 877.5H242.0M247.0 877.5H251M250 877.5H253.0M258.0 877.5H261M260 877.5H263.0M268.0 877.5H271M270 877.5H273.0M278.0 877.5H281M280 877.5H283.0M288.0 877.5H291M290 877.5H294.0M299.0 877.5H302M301 877.5H304.0M309.0 877.5H312M311 877.5H314.0M319.0 877.5H322M321 877.5H324.0M329.0 877.5H332M331 876.5H334.0M339.0 876.5H342M341 876.5H345.0M350.0 876.5H353M352 876.5H355.0M360.0 876.5H363M362 877.5H365.0M370.0 877.5H373M372 876.5H375.0M380.0 876.5H383M382 877.5H385.0M390.0 877.5H394M393 876.5H396.0M401.0 876.5H404M403 876.5H406.0M411.0 876.5H414M413 876.5H416.0M421.0 876.5H424M423 876.5H426.0M431.0 876.5H434M433 876.5H436.0M441.0 876.5H445M444 877.5H447.0M452.0 877.5H455M454 877.5H457.0M462.0 877.5H465M464 877.5H467.0M472.0 877.5H475M474 878.5H477.0M482.0 878.5H485M484 877.5H487.0M492.0 877.5H496M495 877.5H498.0M503.0 877.5H506M505 877.5H508.0M513.0 877.5H516M515 877.5H518.0M523.0 877.5H526M525 878.5H528.0M533.0 878.5H536M535 876.5H539.0M544.0 876.5H547M546 876.5H549.0M554.0 876.5H557M556 874.5H559.0M564.0 874.5H567M561.5 869.5V872.0M561.5 877.0V879.5M566 872.5H569.0M574.0 872.5H577M576 868.5H579.0M584.0 868.5H587M586 884.5H590.0M595.0 884.5H598M597 877.5H600.0M605.0 877.5H608M607 873.5H610.0M615.0 873.5H618M617 883.5H620.0M625.0 883.5H628M627 878.5H630.0M635.0 878.5H639M638 873.5H641.0M646.0 873.5H649M648 851.5H651.0M656.0 851.5H659M653.5 829.5V849.0M653.5 854.0V873.5M658 863.5H661.0M666.0 863.5H669M663.5 848.5V861.0M663.5 866.0V878.5M668 887.5H671.0M676.0 887.5H679M678 883.5H681.0M686.0 883.5H690M689 882.5H692.0M697.0 882.5H700M699 887.5H702.0M707.0 887.5H710M709 887.5H712.0M717.0 887.5H720M719 851.5H722.0M727.0 851.5H730M724.5 827.5V849.0M724.5 854.0V875.5M729 876.5H732.0M737.0 876.5H741M740 878.5H743.0M748.0 878.5H751M745.5 870.5V876.0M745.5 881.0V886.5M750 880.5H753.0M758.0 880.5H761M760 804.5H763.0M768.0 804.5H771M765.5 725.5V802.0M765.5 807.0V883.5M770 878.5H773.0M778.0 878.5H781M775.5 865.5V876.0M775.5 881.0V891.5M780 895.5H784.0M789.0 895.5H792M791 877.5H794.0M799.0 877.5H802M801 878.5H804.0M809.0 878.5H812M806.5 871.5V876.0M806.5 881.0V885.5M811 892.5H814.0M819.0 892.5H822M821 885.5H824.0M829.0 885.5H832M826.5 877.5V883.0M826.5 888.0V893.5M831 893.5H835.0M840.0 893.5H843M842 893.5H845.0M850.0 893.5H853M852 894.5H855.0M860.0 894.5H863M862 799.5H865.0M870.0 799.5H873M867.5 739.5V797.0M867.5 802.0V859.5M903 895.5H906.0M911.0 895.5H914M923 861.5H926.0M931.0 861.5H935M928.5 842.5V859.0M928.5 864.0V880.5M964 895.5H967.0M972.0 895.5H975M974 890.5H977.0M982.0 890.5H986M1046 880.5H1049.0M1054.0 880.5H1057M1051.5 868.5V878.0M1051.5 883.0V892.5M1138 896.5H1141.0M1146.0 896.5H1149" fill="none" shape-rendering="crispEdges"/>
<g stroke="none"><path d="M130.0 874.0h3v2h2v3h-2v2h-3v-2h-2v-3h2z"/><path d="M140.0 874.0h3v2h2v3h-2v2h-3v-2h-2v-3h2z"/><path d="M151.0 873.0h3v2h2v3h-2v2h-3v-2h-2v-3h2z"/><path d="M161.0 873.0h3v2h2v3h-2v2h-3v-2h-2v-3h2z"/><path d="M171.0 873.0h3v2h2v3h-2v2h-3v-2h-2v-3h2z"/><path d="M181.0 873.0h3v2h2v3h-2v2h-3v-2h-2v-3h2z"/><path d="M191.0 873.0h3v2h2v3h-2v2h-3v-2h-2v-3h2z"/><path d="M202.0 873.0h3v2h2v3h-2v2h-3v-2h-2v-3h2z"/><path d="M212.0 873.0h3v2h2v3h-2v2h-3v-2h-2v-3h2z"/><path d="M222.0 873.0h3v2h2v3h-2v2h-3v-2h-2v-3h2z"/><path d="M232.0 873.0h3v2h2v3h-2v2h-3v-2h-2v-3h2z"/><path d="M242.0 873.0h3v2h2v3h-2v2h-3v-2h-2v-3h2z"/><path d="M253.0 873.0h3v2h2v3h-2v2h-3v-2h-2v-3h2z"/><path d="M263.0 873.0h3v2h2v3h-2v2h-3v-2h-2v-3h2z"/><path d="M273.0 873.0h3v2h2v3h-2v2h-3v-2h-2v-3h2z"/><path d="M283.0 873.0h3v2h2v3h-2v2h-3v-2h-2v-3h2z"/><path d="M294.0 873.0h3v2h2v3h-2v2h-3v-2h-2v-3h2z"/><path d="M304.0 873.0h3v2h2v3h-2v2h-3v-2h-2v-3h2z"/><path d="M314.0 873.0h3v2h2v3h-2v2h-3v-2h-2v-3h2z"/><path d="M324.0 873.0h3v2h2v3h-2v2h-3v-2h-2v-3h2z"/><path d="M334.0 872.0h3v2h2v3h-2v2h-3v-2h-2v-3h2z"/><path d="M345.0 872.0h3v2h2v3h-2v2h-3v-2h-2v-3h2z"/><path d="M355.0 872.0h3v2h2v3h-2v2h-3v-2h-2v-3h2z"/><path d="M365.0 873.0h3v2h2v3h-2v2h-3v-2h-2v-3h2z"/><path d="M375.0 872.0h3v2h2v3h-2v2h-3v-2h-2v-3h2z"/><path d="M385.0 873.0h3v2h2v3h-2v2h-3v-2h-2v-3h2z"/><path d="M396.0 872.0h3v2h2v3h-2v2h-3v-2h-2v-3h2z"/><path d="M406.0 872.0h3v2h2v3h-2v2h-3v-2h-2v-3h2z"/><path d="M416.0 872.0h3v2h2v3h-2v2h-3v-2h-2v-3h2z"/><path d="M426.0 872.0h3v2h2v3h-2v2h-3v-2h-2v-3h2z"/><path d="M436.0 872.0h3v2h2v3h-2v2h-3v-2h-2v-3h2z"/><path d="M447.0 873.0h3v2h2v3h-2v2h-3v-2h-2v-3h2z"/><path d="M457.0 873.0h3v2h2v3h-2v2h-3v-2h-2v-3h2z"/><path d="M467.0 873.0h3v2h2v3h-2v2h-3v-2h-2v-3h2z"/><path d="M477.0 874.0h3v2h2v3h-2v2h-3v-2h-2v-3h2z"/><path d="M487.0 873.0h3v2h2v3h-2v2h-3v-2h-2v-3h2z"/><path d="M498.0 873.0h3v2h2v3h-2v2h-3v-2h-2v-3h2z"/><path d="M508.0 873.0h3v2h2v3h-2v2h-3v-2h-2v-3h2z"/><path d="M518.0 873.0h3v2h2v3h-2v2h-3v-2h-2v-3h2z"/><path d="M528.0 874.0h3v2h2v3h-2v2h-3v-2h-2v-3h2z"/><path d="M539.0 872.0h3v2h2v3h-2v2h-3v-2h-2v-3h2z"/><path d="M549.0 872.0h3v2h2v3h-2v2h-3v-2h-2v-3h2z"/><path d="M559.0 870.0h3v2h2v3h-2v2h-3v-2h-2v-3h2z"/><path d="M569.0 868.0h3v2h2v3h-2v2h-3v-2h-2v-3h2z"/><path d="M579.0 864.0h3v2h2v3h-2v2h-3v-2h-2v-3h2z"/><path d="M590.0 880.0h3v2h2v3h-2v2h-3v-2h-2v-3h2z"/><path d="M600.0 873.0h3v2h2v3h-2v2h-3v-2h-2v-3h2z"/><path d="M610.0 869.0h3v2h2v3h-2v2h-3v-2h-2v-3h2z"/><path d="M620.0 879.0h3v2h2v3h-2v2h-3v-2h-2v-3h2z"/><path d="M630.0 874.0h3v2h2v3h-2v2h-3v-2h-2v-3h2z"/><path d="M641.0 869.0h3v2h2v3h-2v2h-3v-2h-2v-3h2z"/><path d="M651.0 847.0h3v2h2v3h-2v2h-3v-2h-2v-3h2z"/><path d="M661.0 859.0h3v2h2v3h-2v2h-3v-2h-2v-3h2z"/><path d="M671.0 883.0h3v2h2v3h-2v2h-3v-2h-2v-3h2z"/><path d="M681.0 879.0h3v2h2v3h-2v2h-3v-2h-2v-3h2z"/><path d="M692.0 878.0h3v2h2v3h-2v2h-3v-2h-2v-3h2z"/><path d="M702.0 883.0h3v2h2v3h-2v2h-3v-2h-2v-3h2z"/><path d="M712.0 883.0h3v2h2v3h-2v2h-3v-2h-2v-3h2z"/><path d="M722.0 847.0h3v2h2v3h-2v2h-3v-2h-2v-3h2z"/><path d="M732.0 872.0h3v2h2v3h-2v2h-3v-2h-2v-3h2z"/><path d="M743.0 874.0h3v2h2v3h-2v2h-3v-2h-2v-3h2z"/><path d="M753.0 876.0h3v2h2v3h-2v2h-3v-2h-2v-3h2z"/><path d="M763.0 800.0h3v2h2v3h-2v2h-3v-2h-2v-3h2z"/><path d="M773.0 874.0h3v2h2v3h-2v2h-3v-2h-2v-3h2z"/><path d="M784.0 891.0h3v2h2v3h-2v2h-3v-2h-2v-3h2z"/><path d="M794.0 873.0h3v2h2v3h-2v2h-3v-2h-2v-3h2z"/><path d="M804.0 874.0h3v2h2v3h-2v2h-3v-2h-2v-3h2z"/><path d="M814.0 888.0h3v2h2v3h-2v2h-3v-2h-2v-3h2z"/><path d="M824.0 881.0h3v2h2v3h-2v2h-3v-2h-2v-3h2z"/><path d="M835.0 889.0h3v2h2v3h-2v2h-3v-2h-2v-3h2z"/><path d="M845.0 889.0h3v2h2v3h-2v2h-3v-2h-2v-3h2z"/><path d="M855.0 890.0h3v2h2v3h-2v2h-3v-2h-2v-3h2z"/><path d="M865.0 795.0h3v2h2v3h-2v2h-3v-2h-2v-3h2z"/><path d="M906.0 891.0h3v2h2v3h-2v2h-3v-2h-2v-3h2z"/><path d="M926.0 857.0h3v2h2v3h-2v2h-3v-2h-2v-3h2z"/><path d="M967.0 891.0h3v2h2v3h-2v2h-3v-2h-2v-3h2z"/><path d="M977.0 886.0h3v2h2v3h-2v2h-3v-2h-2v-3h2z"/><path d="M1049.0 876.0h3v2h2v3h-2v2h-3v-2h-2v-3h2z"/><path d="M1141.0 892.0h3v2h2v3h-2v2h-3v-2h-2v-3h2z"/></g>
</g>
<g stroke="#990099" stroke-width="1" fill="#990099">
<path d="M127 878.5H130.0M135.0 878.5H138M137 878.5H140.0M145.0 878.5H149M148 877.5H151.0M156.0 877.5H159M158 876.5H161.0M166.0 876.5H169M168 876.5H171.0M176.0 876.5H179M178 876.5H181.0M186.0 876.5H189M188 876.5H191.0M196.0 876.5H200M199 876.5H202.0M207.0 876.5H210M209 876.5H212.0M217.0 876.5H220M219 876.5H222.0M227.0 876.5H230M229 876.5H232.0M237.0 876.5H240M239 876.5H242.0M247.0 876.5H251M250 876.5H253.0M258.0 876.5H261M260 876.5H263.0M268.0 876.5H271M270 875.5H273.0M278.0 875.5H281M280 875.5H283.0M288.0 875.5H291M290 875.5H294.0M299.0 875.5H302M301 875.5H304.0M309.0 875.5H312M311 874.5H314.0M319.0 874.5H322M321 874.5H324.0M329.0 874.5H332M331 874.5H334.0M339.0 874.5H342M341 874.5H345.0M350.0 874.5H353M352 874.5H355.0M360.0 874.5H363M362 874.5H365.0M370.0 874.5H373M372 874.5H375.0M380.0 874.5H383M382 875.5H385.0M390.0 875.5H394M393 874.5H396.0M401.0 874.5H404M403 875.5H406.0M411.0 875.5H414M413 874.5H416.0M421.0 874.5H424M423 874.5H426.0M431.0 874.5H434M433 874.5H436.0M441.0 874.5H445M444 873.5H447.0M452.0 873.5H455M454 875.5H457.0M462.0 875.5H465M464 874.5H467.0M472.0 874.5H475M474 873.5H477.0M482.0 873.5H485M484 874.5H487.0M492.0 874.5H496M495 873.5H498.0M503.0 873.5H506M505 875.5H508.0M513.0 875.5H516M515 874.5H518.0M523.0 874.5H526M525 873.5H528.0M533.0 873.5H536M535 875.5H539.0M544.0 875.5H547M546 875.5H549.0M554.0 875.5H557M556 872.5H559.0M564.0 872.5H567M566 877.5H569.0M574.0 877.5H577M576 877.5H579.0M584.0 877.5H587M586 874.5H590.0M595.0 874.5H598M597 868.5H600.0M605.0 868.5H608M607 870.5H610.0M615.0 870.5H618M617 875.5H620.0M625.0 875.5H628M627 872.5H630.0M635.0 872.5H639M638 879.5H641.0M646.0 879.5H649M648 880.5H651.0M656.0 880.5H659M658 882.5H661.0M666.0 882.5H669M668 884.5H671.0M676.0 884.5H679M678 872.5H681.0M686.0 872.5H690M683.5 860.5V870.0M683.5 875.0V884.5M689 865.5H692.0M697.0 865.5H700M694.5 853.5V863.0M694.5 868.0V877.5M699 876.5H702.0M707.0 876.5H710M709 881.5H712.0M717.0 881.5H720M719 862.5H722.0M727.0 862.5H730M724.5 844.5V860.0M724.5 865.0V880.5M729 886.5H732.0M737.0 886.5H741M740 888.5H743.0M748.0 888.5H751M750 884.5H753.0M758.0 884.5H761M755.5 874.5V882.0M755.5 887.0V894.5M760 885.5H763.0M768.0 885.5H771M770 877.5H773.0M778.0 877.5H781M775.5 867.5V875.0M775.5 880.0V887.5M780 892.5H784.0M789.0 892.5H792M791 892.5H794.0M799.0 892.5H802M801 858.5H804.0M809.0 858.5H812M806.5 840.5V856.0M806.5 861.0V876.5M811 858.5H814.0M819.0 858.5H822M816.5 838.5V856.0M816.5 861.0V878.5M821 845.5H824.0M829.0 845.5H832M826.5 819.5V843.0M826.5 848.0V871.5M831 879.5H835.0M840.0 879.5H843M837.5 869.5V877.0M837.5 882.0V889.5M842 871.5H845.0M850.0 871.5H853M847.5 859.5V869.0M847.5 874.0V883.5M852 845.5H855.0M860.0 845.5H863M857.5 819.5V843.0M857.5 848.0V871.5M862 888.5H865.0M870.0 888.5H873M872 889.5H875.0M880.0 889.5H883M877.5 881.5V887.0M877.5 892.0V896.5M882 894.5H886.0M891.0 894.5H894M893 885.5H896.0M901.0 885.5H904M913 888.5H916.0M921.0 888.5H924M923 896.5H926.0M931.0 896.5H935M934 865.5H937.0M942.0 865.5H945M939.5 843.5V863.0M939.5 868.0V887.5M954 865.5H957.0M962.0 865.5H965M959.5 853.5V863.0M959.5 868.0V877.5M964 808.5H967.0M972.0 808.5H975M974 851.5H977.0M982.0 851.5H986M979.5 821.5V849.0M979.5 854.0V881.5M985 889.5H988.0M993.0 889.5H996M995 888.5H998.0M1003.0 888.5H1006M1015 895.5H1018.0M1023.0 895.5H1026M1076 891.5H1080.0M1085.0 891.5H1088" fill="none" shape-rendering="crispEdges"/>
<g stroke="none"><rect x="128.0" y="874.0" width="6" height="6"/><rect x="138.0" y="874.0" width="6" height="6"/><rect x="149.0" y="873.0" width="6" height="6"/><rect x="159.0" y="872.0" width="6" height="6"/><rect x="169.0" y="872.0" width="6" height="6"/><rect x="179.0" y="872.0" width="6" height="6"/><rect x="189.0" y="872.0" width="6" height="6"/><rect x="200.0" y="872.0" width="6" height="6"/><rect x="210.0" y="872.0" width="6" height="6"/><rect x="220.0" y="872.0" width="6" height="6"/><rect x="230.0" y="872.0" width="6" height="6"/><rect x="240.0" y="872.0" width="6" height="6"/><rect x="251.0" y="872.0" width="6" height="6"/><rect x="261.0" y="872.0" width="6" height="6"/><rect x="271.0" y="871.0" width="6" height="6"/><rect x="281.0" y="871.0" width="6" height="6"/><rect x="292.0" y="871.0" width="6" height="6"/><rect x="302.0" y="871.0" width="6" height="6"/><rect x="312.0" y="870.0" width="6" height="6"/><rect x="322.0" y="870.0" width="6" height="6"/><rect x="332.0" y="870.0" width="6" height="6"/><rect x="343.0" y="870.0" width="6" height="6"/><rect x="353.0" y="870.0" width="6" height="6"/><rect x="363.0" y="870.0" width="6" height="6"/><rect x="373.0" y="870.0" width="6" height="6"/><rect x="383.0" y="871.0" width="6" height="6"/><rect x="394.0" y="870.0" width="6" height="6"/><rect x="404.0" y="871.0" width="6" height="6"/><rect x="414.0" y="870.0" width="6" height="6"/><rect x="424.0" y="870.0" width="6" height="6"/><rect x="434.0" y="870.0" width="6" height="6"/><rect x="445.0" y="869.0" width="6" height="6"/><rect x="455.0" y="871.0" width="6" height="6"/><rect x="465.0" y="870.0" width="6" height="6"/><rect x="475.0" y="869.0" width="6" height="6"/><rect x="485.0" y="870.0" width="6" height="6"/><rect x="496.0" y="869.0" width="6" height="6"/><rect x="506.0" y="871.0" width="6" height="6"/><rect x="516.0" y="870.0" width="6" height="6"/><rect x="526.0" y="869.0" width="6" height="6"/><rect x="537.0" y="871.0" width="6" height="6"/><rect x="547.0" y="871.0" width="6" height="6"/><rect x="557.0" y="868.0" width="6" height="6"/><rect x="567.0" y="873.0" width="6" height="6"/><rect x="577.0" y="873.0" width="6" height="6"/><rect x="588.0" y="870.0" width="6" height="6"/><rect x="598.0" y="864.0" width="6" height="6"/><rect x="608.0" y="866.0" width="6" height="6"/><rect x="618.0" y="871.0" width="6" height="6"/><rect x="628.0" y="868.0" width="6" height="6"/><rect x="639.0" y="875.0" width="6" height="6"/><rect x="649.0" y="876.0" width="6" height="6"/><rect x="659.0" y="878.0" width="6" height="6"/><rect x="669.0" y="880.0" width="6" height="6"/><rect x="679.0" y="868.0" width="6" height="6"/><rect x="690.0" y="861.0" width="6" height="6"/><rect x="700.0" y="872.0" width="6" height="6"/><rect x="710.0" y="877.0" width="6" height="6"/><rect x="720.0" y="858.0" width="6" height="6"/><rect x="730.0" y="882.0" width="6" height="6"/><rect x="741.0" y="884.0" width="6" height="6"/><rect x="751.0" y="880.0" width="6" height="6"/><rect x="761.0" y="881.0" width="6" height="6"/><rect x="771.0" y="873.0" width="6" height="6"/><rect x="782.0" y="888.0" width="6" height="6"/><rect x="792.0" y="888.0" width="6" height="6"/><rect x="802.0" y="854.0" width="6" height="6"/><rect x="812.0" y="854.0" width="6" height="6"/><rect x="822.0" y="841.0" width="6" height="6"/><rect x="833.0" y="875.0" width="6" height="6"/><rect x="843.0" y="867.0" width="6" height="6"/><rect x="853.0" y="841.0" width="6" height="6"/><rect x="863.0" y="884.0" width="6" height="6"/><rect x="873.0" y="885.0" width="6" height="6"/><rect x="884.0" y="890.0" width="6" height="6"/><rect x="894.0" y="881.0" width="6" height="6"/><rect x="914.0" y="884.0" width="6" height="6"/><rect x="924.0" y="892.0" width="6" height="6"/><rect x="935.0" y="861.0" width="6" height="6"/><rect x="955.0" y="861.0" width="6" height="6"/><rect x="965.0" y="804.0" width="6" height="6"/><rect x="975.0" y="847.0" width="6" height="6"/><rect x="986.0" y="885.0" width="6" height="6"/><rect x="996.0" y="884.0" width="6" height="6"/><rect x="1016.0" y="891.0" width="6" height="6"/><rect x="1078.0" y="887.0" width="6" height="6"/></g>
</g>
<g shape-rendering="crispEdges">
<rect x="683" y="105" width="3" height="148" fill="#000"/>
<rect x="599" y="250" width="87" height="3" fill="#000"/>
<rect x="593.5" y="99.5" width="89" height="150" fill="#fff" stroke="#000" stroke-width="1"/>
</g>
<g fill="#ff0000"><path d="M598.0 108.5L601.5 115.2H594.5Z"/></g>
<g fill="#0000ff"><circle cx="598.5" cy="136.5" r="3.6"/></g>
<g fill="#009900"><path d="M593.9 156.9H601.3L598.2 163.5Z"/></g>
<g fill="#990099"><rect x="594.0" y="182.0" width="6" height="6"/></g>
<g fill="#66cccc"><path d="M596.0 207.0h3v2h2v3h-2v2h-3v-2h-2v-3h2z"/></g>
<g fill="#000000"><path d="M598.0 232.6L600.4 236.0L598.0 239.4L595.6 236.0Z"/></g>
<g font-family="'Liberation Sans', Arial, Helvetica, sans-serif" font-weight="bold" fill="#000" opacity="0.999">
<text transform="translate(603.7,116.7) scale(1,1.03)" font-size="19.2" text-anchor="start">Electron</text>
<text transform="translate(603.7,141.7) scale(1,1.03)" font-size="19.2" text-anchor="start">Muon</text>
<text transform="translate(603.7,166.7) scale(1,1.03)" font-size="19.2" text-anchor="start">Pion</text>
<text transform="translate(603.7,191.5) scale(1,1.03)" font-size="19.2" text-anchor="start">Kaon</text>
<text transform="translate(603.7,216.5) scale(1,1.03)" font-size="19.2" text-anchor="start">Proton</text>
<text transform="translate(603.7,241.7) scale(1,1.03)" font-size="19.2" text-anchor="start">Ghost</text>
<text transform="translate(315.2,935.4) scale(0.95,1.04)" font-size="28.8" text-anchor="middle">10</text>
<text transform="translate(501.9,935.4) scale(1,1.04)" font-size="28.8" text-anchor="middle">20</text>
<text transform="translate(689.9,935.4) scale(1,1.04)" font-size="28.8" text-anchor="middle">30</text>
<text transform="translate(876.9,935.4) scale(1,1.04)" font-size="28.8" text-anchor="middle">40</text>
<text transform="translate(1064.9,935.4) scale(1,1.04)" font-size="28.8" text-anchor="middle">50</text>
<text transform="translate(122.3,907.1) scale(1,1.04)" font-size="28.8" text-anchor="end">0</text>
<text transform="translate(122.2,827.1) scale(0.9,1.04)" font-size="28.8" text-anchor="end">0.1</text>
<text transform="translate(122.3,748.1) scale(1,1.04)" font-size="28.8" text-anchor="end">0.2</text>
<text transform="translate(122.3,668.1) scale(1,1.04)" font-size="28.8" text-anchor="end">0.3</text>
<text transform="translate(122.3,588.1) scale(1,1.04)" font-size="28.8" text-anchor="end">0.4</text>
<text transform="translate(122.3,509.1) scale(1,1.04)" font-size="28.8" text-anchor="end">0.5</text>
<text transform="translate(122.3,429.1) scale(1,1.04)" font-size="28.8" text-anchor="end">0.6</text>
<text transform="translate(122.3,349.1) scale(1,1.04)" font-size="28.8" text-anchor="end">0.7</text>
<text transform="translate(122.3,269.1) scale(1,1.04)" font-size="28.8" text-anchor="end">0.8</text>
<text transform="translate(122.3,190.1) scale(1,1.04)" font-size="28.8" text-anchor="end">0.9</text>
<text transform="translate(122.2,110.1) scale(0.8,1.04)" font-size="28.8" text-anchor="end">1</text>
<text transform="translate(1149.5,971.4) scale(1,1.05)" font-size="28.25" text-anchor="end">Upstream Electron TrackFitVeloChi2</text>
<text transform="translate(48.6,98.0) rotate(-90) scale(1,1.05)" font-size="28.25" text-anchor="end" stroke="#000" stroke-width="0.3">Upstream Electron MVA Output</text>
<text transform="translate(637.6,41.8) scale(1,1.1)" font-size="8.07" text-anchor="middle" stroke="#000" stroke-width="0.12">MVAVTrackFitVeloChi2 Electron Upstream | All NaturalMix AllPhysTracksInEvent:AllPhysTracksInEvent ReweightRICH2 EvalWithPreSel | Train:MC12MixtureGhosts GhF0.01 Eval:MC2015Sim09Dev03MixtureGhosts | TMVA-Run2-NoTkLikCDVelodEdx | MLP Norm BP NCycles750 CE tanh SF1.2 CVTest15:1e-16 !UseReg</text>
</g>
</svg>
</body></html>
